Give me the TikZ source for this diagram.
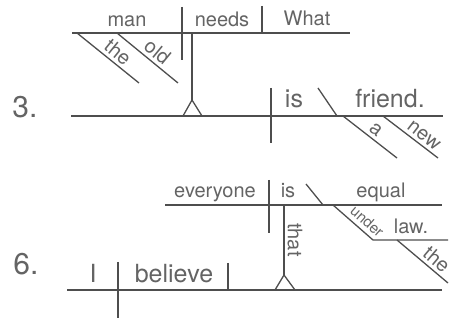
\documentclass[tikz,border=0pt]{standalone}
\usepackage{fontspec}
\setmainfont{TeX Gyre Heros}
\definecolor{rulegray}{RGB}{78,78,78}
\definecolor{wordgray}{RGB}{100,100,100}

\begin{document}
\begin{tikzpicture}[
    x=1pt, y=-1pt,
    rule/.style={draw=rulegray, line width=1.3pt},
    word/.style={text=wordgray, inner sep=0pt, anchor=base,
        font=\fontsize{20}{22}\selectfont},
    bigword/.style={word, font=\fontsize{25}{27}\selectfont},
    slantword/.style={word, sloped, above=3pt},
    smallslant/.style={slantword, above=1pt, font=\fontsize{15}{17}\selectfont},
    number/.style={word, font=\fontsize{30}{32}\selectfont}
]
\useasboundingbox (0,0) rectangle (458,320);

% Sentence 3: clause line
\coordinate (c3L) at (72,33);
\coordinate (c3R) at (350,33);
\coordinate (c3div1T) at (182,7);
\coordinate (c3div1B) at (182,60);
\coordinate (c3div2T) at (262,6);
\coordinate (c3div2B) at (262,33);
\coordinate (c3theT) at (77,33);
\coordinate (c3theB) at (139,83);
\coordinate (c3oldT) at (117,33);
\coordinate (c3oldB) at (178,83);
\coordinate (c3stemT) at (192,33);
\coordinate (c3stemB) at (192,100);
\coordinate (c3triL) at (183,116);
\coordinate (c3triR) at (202,116);

\draw[rule] (c3L) -- (c3R);
\draw[rule] (c3div1T) -- (c3div1B);
\draw[rule] (c3div2T) -- (c3div2B);
\draw[rule] (c3theT) -- node[slantword, pos=0.55] (w3the) {the} (c3theB);
\draw[rule] (c3oldT) -- node[slantword, pos=0.55] (w3old) {old} (c3oldB);
\draw[rule] (c3stemT) -- (c3stemB);
\draw[rule] (c3triL) -- (c3stemB) -- (c3triR);

\node[word] (w3man) at (127,27) {man};
\node[word] (w3needs) at (222,27) {needs};
\node[word] (w3what) at (307,26) {What};

% Sentence 3: main line
\coordinate (m3L) at (71,116);
\coordinate (m3R) at (443,116);
\coordinate (m3divT) at (271,88);
\coordinate (m3divB) at (271,143);
\coordinate (m3slashT) at (318,88);
\coordinate (m3slashB) at (337,116);
\coordinate (m3aT) at (343,116);
\coordinate (m3aB) at (397,158);
\coordinate (m3newT) at (383,116);
\coordinate (m3newB) at (438,158);

\draw[rule] (m3L) -- (m3R);
\draw[rule] (m3divT) -- (m3divB);
\draw[rule] (m3slashT) -- (m3slashB);
\draw[rule] (m3aT) -- node[slantword, pos=0.5] (w3a) {a} (m3aB);
\draw[rule] (m3newT) -- node[slantword, pos=0.64] (w3new) {new} (m3newB);

\node[bigword] (w3is) at (294,108) {is};
\node[bigword] (w3friend) at (390,108) {friend.};
\node[number] (num3) at (25,118) {3.};

% Sentence 6: clause line
\coordinate (c6L) at (165,205);
\coordinate (c6R) at (442,205);
\coordinate (c6divT) at (269,180);
\coordinate (c6divB) at (269,233);
\coordinate (c6slashT) at (306,184);
\coordinate (c6slashB) at (323,205);
\coordinate (c6underT) at (333,205);
\coordinate (c6underB) at (373,240);
\coordinate (c6lawR) at (448,240);
\coordinate (c6theT) at (397,240);
\coordinate (c6theB) at (448,283);
\coordinate (c6stemT) at (284,205);
\coordinate (c6stemB) at (284,275);
\coordinate (c6triL) at (275,290);
\coordinate (c6triR) at (295,290);

\draw[rule] (c6L) -- (c6R);
\draw[rule] (c6divT) -- (c6divB);
\draw[rule] (c6slashT) -- (c6slashB);
\draw[rule] (c6underT) -- node[smallslant, pos=0.69] (w6under) {under} (c6underB) -- (c6lawR);
\draw[rule] (c6theT) -- node[slantword, pos=0.64] (w6the) {the} (c6theB);
\draw[rule] (c6stemT) -- (c6stemB);
\draw[rule] (c6triL) -- (c6stemB) -- (c6triR);

\node[word] (w6everyone) at (215,198) {everyone};
\node[word] (w6is) at (288,198) {is};
\node[word] (w6equal) at (381,198) {equal};
\node[word] (w6law) at (411,234) {law.};
\node[word, rotate=-90, anchor=center] (w6that) at (295,240) {that};

% Sentence 6: main line
\coordinate (m6L) at (67,290);
\coordinate (m6R) at (442,290);
\coordinate (m6div1T) at (118,262);
\coordinate (m6div1B) at (118,318);
\coordinate (m6div2T) at (228,263);
\coordinate (m6div2B) at (228,290);

\draw[rule] (m6L) -- (m6R);
\draw[rule] (m6div1T) -- (m6div1B);
\draw[rule] (m6div2T) -- (m6div2B);

\node[bigword] (w6I) at (93,283) {I};
\node[bigword] (w6believe) at (174,283) {believe};
\node[number] (num6) at (26,275) {6.};

\end{tikzpicture}
\end{document}
